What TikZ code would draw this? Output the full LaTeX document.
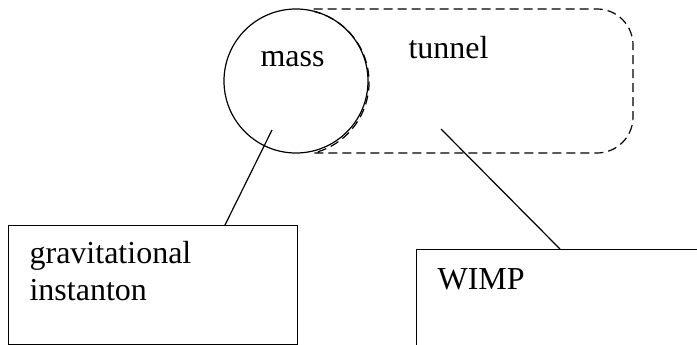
\documentclass[tikz,border=0pt]{standalone}
\usepackage{fontspec}
\setmainfont{Liberation Serif}
\begin{document}
\begin{tikzpicture}[x=1pt,y=-1pt,
  line width=1.2pt,
  lbl/.style={inner sep=0pt,anchor=base west,font=\fontsize{32}{37}\selectfont},
  boxnode/.style={draw,anchor=north west,inner sep=0pt},
  tunnelline/.style={dash pattern=on 9pt off 5pt}]
\useasboundingbox (0,0) rectangle (697,345);
\clip (0,0) rectangle (697,345);
% tunnel (dashed)
\draw[tunnelline] (313.7,9) -- (597,9) arc[start angle=-90,end angle=0,radius=36]
  -- (633,117) arc[start angle=0,end angle=90,radius=36] -- (313.7,153)
  arc[start angle=76,end angle=-76,radius=73];
% mass circle
\node[draw,circle,minimum size=144pt,inner sep=0pt] (mass) at (296,81) {};
\node[lbl] (masslabel) at (260,67) {mass};
\node[lbl] (tunnellabel) at (408,59) {tunnel};
% boxes
\node[boxnode,minimum width=289pt,minimum height=119pt] (grav) at (8,225) {};
\node[boxnode,minimum width=300pt,minimum height=120pt] (wimp) at (416,249) {};
\node[lbl] (gravlabel1) at (29,263) {gravitational};
\node[lbl] (gravlabel2) at (29,300) {instanton};
\node[lbl] (wimplabel) at (437,289) {WIMP};
% connectors
\coordinate (m1) at (272,130);
\coordinate (g1) at (225,225);
\coordinate (t1) at (441,129);
\coordinate (w1) at (560,249);
\draw (m1) -- (g1);
\draw (t1) -- (w1);
\end{tikzpicture}
\end{document}
